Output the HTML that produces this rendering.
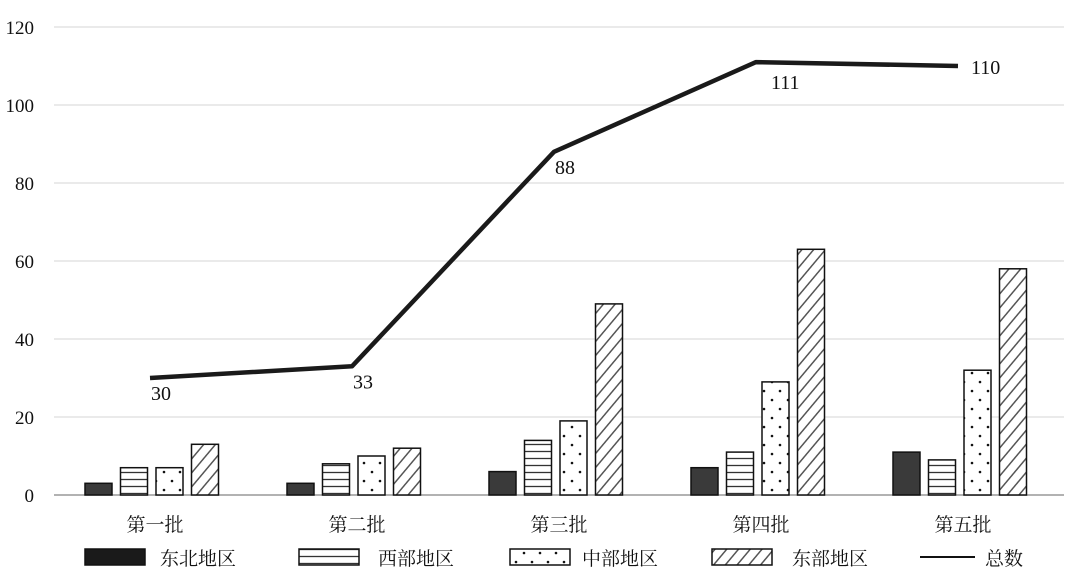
<!DOCTYPE html>
<html><head><meta charset="utf-8"><style>
body{margin:0;background:#fff}
svg text{font-family:"Liberation Serif","Noto Serif CJK SC",serif;fill:#111}
</style></head><body>
<svg width="1080" height="571" viewBox="0 0 1080 571" xmlns="http://www.w3.org/2000/svg">
<defs>
<pattern id="ph" width="8" height="7" patternUnits="userSpaceOnUse"><rect width="8" height="7" fill="#fff"/><line x1="0" y1="3.5" x2="8" y2="3.5" stroke="#333" stroke-width="1.3"/></pattern>
<pattern id="pd" width="16" height="18" patternUnits="userSpaceOnUse"><rect width="16" height="18" fill="#fff"/><circle cx="4" cy="4" r="1.3" fill="#111"/><circle cx="12" cy="13" r="1.3" fill="#111"/></pattern>
<pattern id="pg" width="9" height="9" patternUnits="userSpaceOnUse" patternTransform="rotate(40)"><rect width="9" height="9" fill="#fff"/><line x1="0" y1="0" x2="0" y2="9" stroke="#555" stroke-width="3"/></pattern>
</defs>
<g id="grid"></g><g id="bars"></g><g id="line"></g><g id="legend"></g>
</svg>
<script>
const categories=["第一批","第二批","第三批","第四批","第五批"];
const northeast=[3,3,6,7,11];
const west=[7,8,14,11,9];
const central=[7,10,19,29,32];
const east=[13,12,49,63,58];
const totals=[30,33,88,111,110];
const yTicks=[0,20,40,60,80,100,120];
const NS="http://www.w3.org/2000/svg";
function y(v){return 495-v*3.9;}
function xc(i){return 155+i*202;}
function mk(tag,attrs,parent,text){const e=document.createElementNS(NS,tag);for(const k in attrs)e.setAttribute(k,attrs[k]);if(text!==undefined)e.textContent=text;parent.appendChild(e);return e;}
const grid=document.getElementById('grid');
yTicks.forEach(t=>{
 const l=mk('line',{x1:54,x2:1064,y1:y(t),y2:y(t),stroke:t===0?'#999':'#d6d6d6','stroke-width':t===0?1.5:1},grid);
 
 
 const tx=mk('text',{x:34,y:y(t)+7,'text-anchor':'end','font-size':19},grid,String(t));
 
 
});
categories.forEach((c,i)=>{
 const tx=mk('text',{x:xc(i),y:531,'text-anchor':'middle','font-size':19},grid,c);
 
 
});
const series=[[northeast,'#3a3a3a','northeast'],[west,'url(#ph)','west'],[central,'url(#pd)','central'],[east,'url(#pg)','east']];
const bars=document.getElementById('bars');
series.forEach((s,si)=>{
 s[0].forEach((v,i)=>{
  const x=xc(i)-70+si*35.5;
  const r=mk('rect',{x:x,y:y(v),width:27,height:495-y(v),fill:s[1],stroke:'#111','stroke-width':1.5},bars);
  
  
 });
});
const lg=document.getElementById('line');
const pts=totals.map((v,i)=>(xc(i)-5)+','+y(v)).join(' ');
const pl=mk('polyline',{points:pts,fill:'none',stroke:'#1a1a1a','stroke-width':4.5,'stroke-linejoin':'round'},lg);


totals.forEach((v,i)=>{
 const tx=mk('text',{x:xc(i)+(i===4?8:i===3?10:-4),y:y(v)+(i>=3?8:22),'text-anchor':'start','font-size':20},lg,String(v));
 if(i===3)tx.setAttribute('y',y(v)+27);
 
 
});
const leg=document.getElementById('legend');
const items=[['#1a1a1a','东北地区',85,160],['url(#ph)','西部地区',299,378],['url(#pd)','中部地区',510,582],['url(#pg)','东部地区',712,792]];
items.forEach((it,k)=>{
 const g=mk('g',{},leg);
 
 
 mk('rect',{x:it[2],y:549,width:60,height:16,fill:it[0],stroke:'#111','stroke-width':1.5},g);
 mk('text',{x:it[3],y:565,'font-size':19},g,it[1]);
});
const g5=mk('g',{},leg);


mk('line',{x1:920,x2:975,y1:557,y2:557,stroke:'#111','stroke-width':2},g5);
mk('text',{x:985,y:565,'font-size':19},g5,'总数');
</script>
</body></html>
